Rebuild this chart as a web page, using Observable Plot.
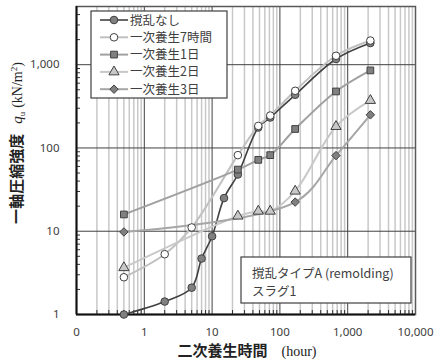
<!DOCTYPE html>
<html><head><meta charset="utf-8">
<script src="https://cdn.jsdelivr.net/npm/d3@7"></script>
<script src="https://cdn.jsdelivr.net/npm/@observablehq/plot@0.6"></script>
<style>body{margin:0;background:#fff}svg{display:block}</style>
</head><body><div id="c"></div>
<script>
// ---- data (hours, qu kN/m2) ----
const seriesNames = ["撹乱なし","一次養生7時間","一次養生1日","一次養生2日","一次養生3日"];
const xNone = [0.5,2,5,7,10,15,24,48,72,168,672,2160];
const yNone = [1.0,1.43,2.1,4.7,8.7,25,48,176,232,435,1170,1820];
const x7h = [0.5,2,5,24,48,72,168,672,2160];
const y7h = [2.8,5.3,11.1,82,184,245,486,1280,1950];
const x1d = [0.5,24,48,72,168,672,2160];
const y1d = [15.9,55,72,82,169,477,854];
const x2d = [0.5,24,48,72,168,672,2160];
const y2d = [3.65,15.2,17.4,17.4,30.3,181,372];
const x3d = [0.5,168,672,2160];
const y3d = [9.8,22.4,81,250];
const xTicks = [0.1,1,10,100,1000,10000];
const yTicks = [1,10,100,1000];
const xLabel = "二次養生時間";
const yLabel = "一軸圧縮強度";
const noteLines = ["撹乱タイプA (remolding)","スラグ1"];

const styles = [
  {x:xNone,y:yNone,line:"#404040",lw:1.6,symbol:"circle",fill:"#808080"},
  {x:x7h,y:y7h,line:"#c0c0c0",lw:2,symbol:"circle",fill:"#ffffff"},
  {x:x1d,y:y1d,line:"#a0a0a0",lw:2,symbol:"square",fill:"#808080"},
  {x:x2d,y:y2d,line:"#c8c8c8",lw:2,symbol:"triangle",fill:"#c8c8c8"},
  {x:x3d,y:y3d,line:"#a6a6a6",lw:2,symbol:"diamond2",fill:"#808080"}
];
const tables = styles.map((s,i)=>s.x.map((x,j)=>({x, y:s.y[j], name:seriesNames[i]})));

const minorX = [];
for (let e=-1;e<4;e++) for (let m=2;m<=9;m++) minorX.push(m*Math.pow(10,e));
const minorY = [];
for (let e=0;e<4;e++) for (let m=2;m<=9;m++){const v=m*Math.pow(10,e); if(v<=5000) minorY.push(v);}

const W=437,H=362,mL=76,mR=22,mT=6,mB=48;
const fw=W-mL-mR, fh=H-mT-mB;
const marks = [
  Plot.ruleX(minorX,{stroke:"#c8c8c8",strokeWidth:1.5}),
  Plot.ruleX([1,10,100,1000],{stroke:"#404040",strokeWidth:1}),
  Plot.ruleY([10,100,1000],{stroke:"#404040",strokeWidth:1}),
  Plot.ruleX(minorX,{stroke:"#333",strokeWidth:1,insetTop:fh-4}),
  Plot.ruleY(minorY,{stroke:"#333",strokeWidth:1,insetRight:fw-4}),
  Plot.frame({stroke:"#595959",strokeWidth:1.5}),
  Plot.ruleX([0.1],{stroke:"#111",strokeWidth:2}),
  Plot.ruleY([1],{stroke:"#111",strokeWidth:2}),
  Plot.axisX({ticks:xTicks,tickFormat:d=>d<1?"0":d3.format(",")(d),tickSize:0,tickPadding:13,fontSize:11.5,fill:"#404040",label:null}),
  Plot.axisY({ticks:yTicks,tickFormat:d3.format(","),tickSize:0,tickPadding:17,fontSize:11.5,fill:"#404040",label:null})
];
styles.forEach((s,i)=>{
  marks.push(Plot.line(tables[i],{x:"x",y:"y",stroke:s.line,strokeWidth:s.lw,curve:"catmull-rom"}));
});
styles.forEach((s,i)=>{
  marks.push(Plot.dot(tables[i],{x:"x",y:"y",symbol:()=>s.symbol,r:3.8,fill:s.fill,stroke:"#404040",strokeWidth:1}));
});

const chart = Plot.plot({
  width:W,height:H,marginLeft:mL,marginRight:mR,marginTop:mT,marginBottom:mB,
  x:{type:"log",domain:[0.1,10000],axis:null},
  y:{type:"log",domain:[1,5000],axis:null},
  style:{fontFamily:"'Noto Sans',sans-serif",background:"#fff"},
  marks
});
document.getElementById("c").appendChild(chart);

const svg = d3.select(chart);
const cjk = "'Noto Sans CJK JP',sans-serif";
// legend
const lg = svg.append("g").attr("text-anchor","start");
lg.append("rect").attr("x",91).attr("y",11).attr("width",136).attr("height",87)
  .attr("fill","#fff").style("fill","#fff").attr("stroke","#404040").attr("stroke-width",1.2);
const symMap = {circle:d3.symbolCircle,square:d3.symbolSquare,triangle:d3.symbolTriangle,diamond2:d3.symbolDiamond2};
styles.forEach((s,i)=>{
  const yy = 20 + i*17.3;
  lg.append("line").attr("x1",100).attr("x2",128).attr("y1",yy).attr("y2",yy)
    .attr("stroke",s.line).attr("stroke-width",s.lw);
  lg.append("path").attr("d",d3.symbol(symMap[s.symbol],3.8*3.8*Math.PI)())
    .attr("transform",`translate(114,${yy})`).attr("fill",s.fill).attr("stroke","#404040");
  lg.append("text").attr("x",130).attr("y",yy).attr("dy","0.36em").attr("text-anchor","start")
    .attr("font-family",cjk).attr("font-size",12.5).attr("fill","#404040").text(seriesNames[i]);
});
// note box
const nb = svg.append("g").attr("text-anchor","start");
nb.append("rect").attr("x",241).attr("y",257).attr("width",170).attr("height",46)
  .attr("fill","#fff").style("fill","#fff").attr("stroke","#404040").attr("stroke-width",1.2);
noteLines.forEach((t,i)=>{
  nb.append("text").attr("x",252).attr("y",278+i*18).attr("text-anchor","start").attr("font-family",cjk)
    .attr("font-size",12.5).attr("fill","#404040").text(t);
});
// x title
const xt = svg.append("text").attr("x",247).attr("y",356).attr("text-anchor","middle").attr("fill","#222");
xt.append("tspan").attr("font-family",cjk).attr("font-size",15).attr("font-weight","bold").text(xLabel);
xt.append("tspan").attr("font-family","'Liberation Serif',serif").attr("font-size",14).attr("dx",14).text("(hour)");
// y title
const yt = svg.append("text").attr("transform","translate(22,143) rotate(-90)").attr("text-anchor","middle").attr("fill","#222");
yt.append("tspan").attr("font-family",cjk).attr("font-size",15).attr("font-weight","bold").text(yLabel);
yt.append("tspan").attr("font-family","'Liberation Serif',serif").attr("font-size",15).attr("font-style","italic").attr("dx",10).text("q");
yt.append("tspan").attr("font-family","'Liberation Serif',serif").attr("font-size",9).attr("dy",3).text("u");
yt.append("tspan").attr("font-family","'Liberation Serif',serif").attr("font-size",14).attr("dy",-3).attr("dx",4).text("(kN/m");
yt.append("tspan").attr("font-family","'Liberation Serif',serif").attr("font-size",9).attr("dy",-5).text("2");
yt.append("tspan").attr("font-family","'Liberation Serif',serif").attr("font-size",14).attr("dy",5).text(")");
</script></body></html>
